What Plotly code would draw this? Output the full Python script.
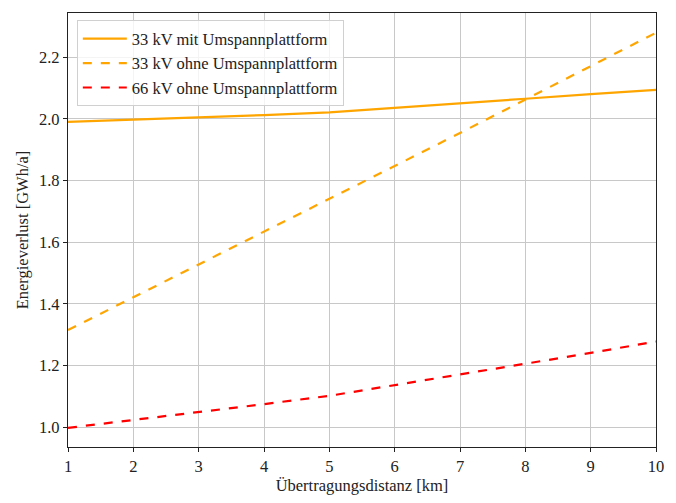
import plotly.graph_objects as go

distanz_km = [1, 2, 3, 4, 5, 6, 7, 8, 9, 10]
kv33_mit = [1.990, 1.997, 2.004, 2.012, 2.021, 2.035, 2.050, 2.065, 2.080, 2.094]
kv33_ohne = [1.315, 1.421, 1.527, 1.633, 1.740, 1.847, 1.954, 2.062, 2.170, 2.279]
kv66_ohne = [0.998, 1.023, 1.049, 1.075, 1.102, 1.136, 1.171, 1.206, 1.241, 1.278]

names = ["33 kV mit Umspannplattform", "33 kV ohne Umspannplattform", "66 kV ohne Umspannplattform"]
colors = ["#FFA500", "#FFA500", "#FF0000"]
dashes = ["solid", "dash", "dash"]

FONT = "Liberation Serif"
FS = 16.5

fig = go.Figure()
for y, n, c, d in zip([kv33_mit, kv33_ohne, kv66_ohne], names, colors, dashes):
    fig.add_trace(go.Scatter(x=distanz_km, y=y, mode="lines", name=n,
                             line=dict(color=c, width=2.2, dash=d)))

axis_common = dict(showline=True, linecolor="#222", linewidth=1.2, mirror=True,
                   ticks="outside", ticklen=4, tickcolor="#222",
                   showgrid=True, gridcolor="#c8c8c8", gridwidth=1.2,
                   zeroline=False, tickfont=dict(family=FONT, size=FS, color="#222"))

fig.update_xaxes(range=[1, 10], dtick=1, tick0=1,
                 title=dict(text="Übertragungsdistanz [km]", font=dict(family=FONT, size=FS, color="#222"), standoff=4),
                 **axis_common)
fig.update_yaxes(range=[0.936, 2.343], dtick=0.2, tick0=1.0, tickformat=".1f",
                 title=dict(text="Energieverlust [GWh/a]", font=dict(family=FONT, size=FS, color="#222"), standoff=6),
                 **axis_common)

fig.update_layout(
    width=676, height=503,
    margin=dict(l=68, r=17, t=13, b=50),
    paper_bgcolor="white", plot_bgcolor="white",
    font=dict(family=FONT, size=FS, color="#222"),
    legend=dict(x=0.015, y=0.983, xanchor="left", yanchor="top",
                bgcolor="rgba(255,255,255,0.8)", bordercolor="#d0d0d0", borderwidth=1,
                font=dict(family=FONT, size=FS), tracegroupgap=0, itemwidth=44),
    showlegend=True,
)

fig.write_html("out.html")
